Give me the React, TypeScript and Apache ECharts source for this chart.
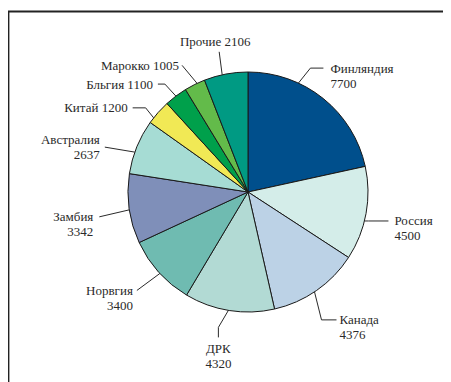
import React, { useEffect, useRef } from "react";
import * as echarts from "echarts";

const names = ["Финляндия", "Россия", "Канада", "ДРК", "Норвгия", "Замбия", "Австралия", "Китай", "Бльгия", "Марокко", "Прочие"];
const values = [7700, 4500, 4376, 4320, 3400, 3342, 2637, 1200, 1100, 1005, 2106];
const colors = ["#004f8c", "#d4ede9", "#bcd2e6", "#b2dad4", "#6fbbb1", "#7f8fb9", "#a6dcd4", "#f1e955", "#00a04b", "#63bb4a", "#009a83"];
const singleLine = ["Китай", "Бльгия", "Марокко", "Прочие"];

const CX = 240;
const CY = 184;
const R = 120;
const LH = 15;

// label leader style per slice: [anchor rotation (deg), elbow dx, elbow dy, horizontal length, gap, mode]
type Leader = [number, number, number, number, number, string];
const leaders: Record<string, Leader> = {
  "Финляндия": [-14, 12, -15, 13, 7, "first"],
  "Россия": [3.6, 4, 0, 20, 6, "first"],
  "Канада": [1.2, 7, 28, 15, 3, "first"],
  "ДРК": [0.4, -10, 17, 10, 4, "down"],
  "Норвгия": [-0.7, -23, 17, 0, 4, "first"],
  "Замбия": [-0.5, -30, 7, 0, 6, "first"],
  "Австралия": [-2.7, -30, -5, 0, 5, "middle"],
  "Китай": [-3.3, -8, -10, 13, 5, "middle"],
  "Бльгия": [0, -11, -12, 7, 5, "middle"],
  "Марокко": [1.2, -15, -18, 0, 3, "middle"],
  "Прочие": [-1.8, -3, -23, 0, 3, "up"],
};

export default function App() {
  const ref = useRef<HTMLDivElement>(null);
  useEffect(() => {
    const chart = echarts.init(ref.current!, undefined, { renderer: "svg" });
    chart.setOption({
      animation: false,
      graphic: [
        {
          type: "rect",
          shape: { x: 0.5, y: 3.5, width: 460, height: 400 },
          style: { fill: "none", stroke: "#222", lineWidth: 1.8 },
        },
      ],
      series: [
        {
          type: "pie",
          center: [CX, CY],
          radius: R,
          startAngle: 90,
          clockwise: true,
          avoidLabelOverlap: false,
          itemStyle: { borderColor: "#1a1a1a", borderWidth: 1 },
          label: {
            show: true,
            position: "outside",
            fontFamily: "Liberation Serif",
            fontSize: 13,
            lineHeight: LH,
            color: "#2a2a2a",
            formatter: (p: any) =>
              singleLine.includes(p.name) ? `${p.name} ${p.value}` : `${p.name}\n${p.value}`,
          },
          labelLine: {
            show: true,
            length: 10,
            length2: 10,
            lineStyle: { color: "#2a2a2a", width: 1 },
          },
          labelLayout: (p: any) => {
            const name = names[p.dataIndex];
            const pts = p.labelLinePoints;
            if (!pts) return {};
            const [rot, ex, ey, h, gap, mode] = leaders[name];
            const a0 = Math.atan2(pts[0][1] - CY, pts[0][0] - CX) + (rot * Math.PI) / 180;
            const p0 = [CX + R * Math.cos(a0), CY + R * Math.sin(a0)];
            const p1 = [p0[0] + ex, p0[1] + ey];
            if (mode === "down") {
              const p2 = [p1[0], p1[1] + h];
              return {
                x: p1[0],
                y: p2[1] + gap,
                align: "center",
                verticalAlign: "top",
                labelLinePoints: [p0, p1, p2],
              };
            }
            if (mode === "up") {
              return {
                x: p1[0] - 4,
                y: p1[1] - gap,
                align: "center",
                verticalAlign: "bottom",
                labelLinePoints: [p0, p1, p1],
              };
            }
            const right = Math.cos(a0) >= 0;
            const sgn = right ? 1 : -1;
            const p2 = [p1[0] + sgn * h, p1[1]];
            return {
              x: p2[0] + sgn * gap,
              y: mode === "first" ? p2[1] - LH / 2 : p2[1],
              align: right ? "left" : "right",
              verticalAlign: mode === "first" ? "top" : "middle",
              labelLinePoints: [p0, p1, p2],
            };
          },
          data: names.map((n, i) => ({
            name: n,
            value: values[i],
            itemStyle: { color: colors[i] },
          })),
        },
      ],
    });
    return () => chart.dispose();
  }, []);
  return <div ref={ref} style={{ width: 443, height: 374 }} />;
}
